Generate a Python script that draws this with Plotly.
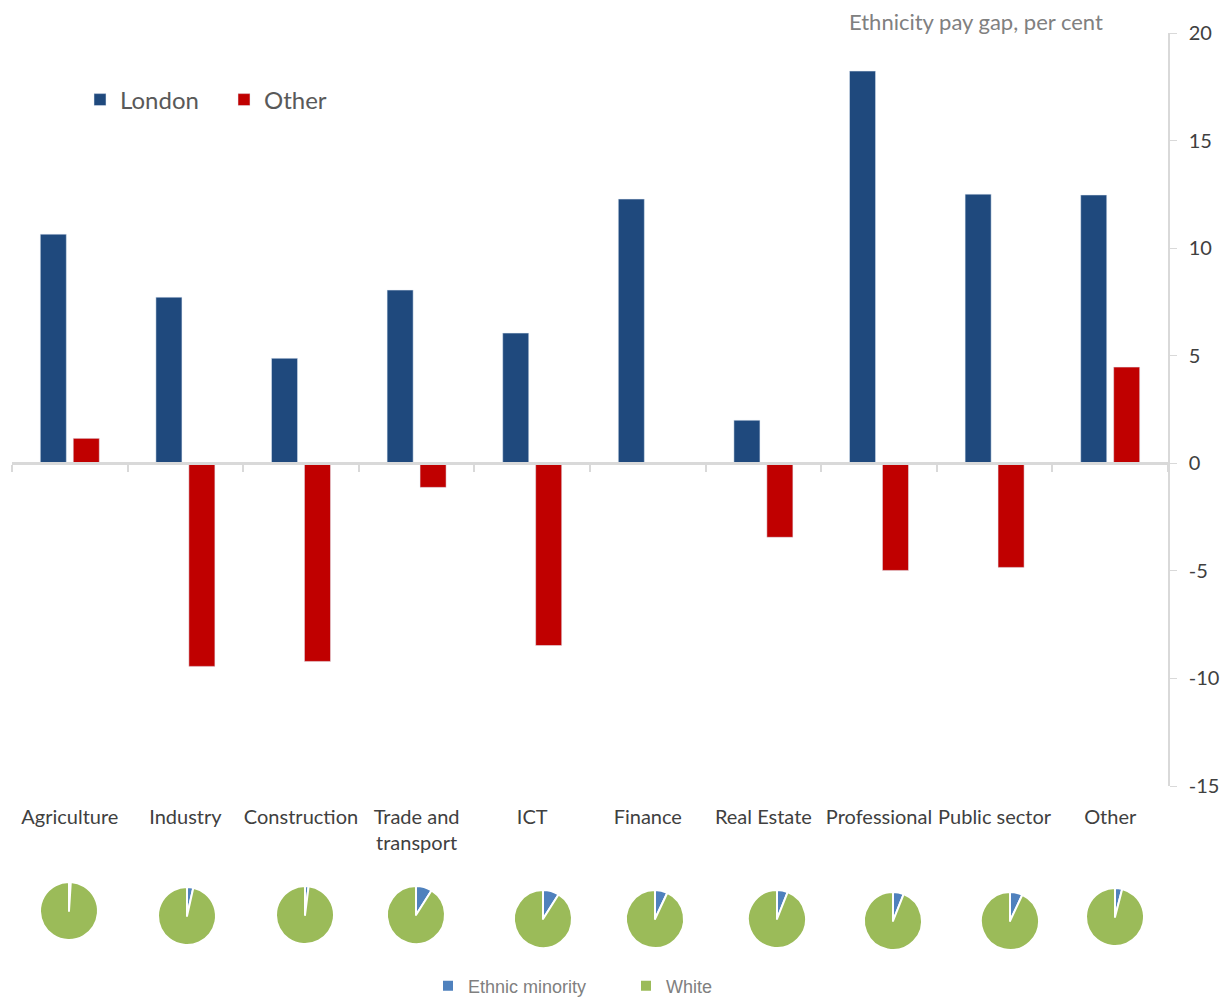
import plotly.graph_objects as go

categories = ["Agriculture", "Industry", "Construction", "Trade and<br>transport", "ICT",
              "Finance", "Real Estate", "Professional", "Public sector", "Other"]
london = [10.65, 7.72, 4.88, 8.05, 6.05, 12.28, 2.0, 18.23, 12.51, 12.47]
other = [1.16, -9.44, -9.21, -1.12, -8.47, None, -3.44, -4.98, -4.84, 4.47]
minority_share = [1.0, 3.5, 2.0, 9.0, 9.0, 7.0, 6.0, 6.0, 7.0, 4.0]
white_share = [100 - m for m in minority_share]
pie_labels = ["Ethnic minority", "White"]
y_ticks = [-15, -10, -5, 0, 5, 10, 15, 20]
y_ticktext = ["-15", "-10", "-5", "0", "5", "10", "15", "20"]

# layout geometry (pixels)
W, H = 1228, 998
ML, MR, MT, MB = 12, 60, 33, 0
plot_w = W - ML - MR
plot_h = H - MT - MB
bar_bottom_px = 786
ydom0 = (H - MB - bar_bottom_px) / plot_h
ymin, ymax = -15, 20
zero_frac = ydom0 + (0 - ymin) / (ymax - ymin) * (1 - ydom0)

pie_cx = [69, 187, 305, 416, 543, 655, 777, 893, 1010, 1115]
pie_cy = [911, 916, 915, 915, 919, 919, 919, 921, 921, 917]
pie_r = 29

TXT = "#404040"
FONT = "Lato"

fig = go.Figure()
fig.add_trace(go.Bar(x=categories, y=london, name="London", marker_color="#1F497D",
                     legend="legend"))
fig.add_trace(go.Bar(x=categories, y=other, name="Other", marker_color="#C00000",
                     legend="legend"))
# empty helper trace so the zero-line axis (x2) is drawn
fig.add_trace(go.Scatter(x=[None], y=[None], xaxis="x2", yaxis="y", mode="lines",
                         showlegend=False, hoverinfo="skip"))

for i in range(len(categories)):
    cx, cy = pie_cx[i], pie_cy[i]
    x0 = (cx - pie_r - ML) / plot_w
    x1 = (cx + pie_r - ML) / plot_w
    y0 = (H - MB - (cy + pie_r)) / plot_h
    y1 = (H - MB - (cy - pie_r)) / plot_h
    fig.add_trace(go.Pie(
        labels=pie_labels, values=[minority_share[i], white_share[i]],
        sort=False, direction="clockwise", rotation=0,
        marker=dict(colors=["#4F81BD", "#9BBB59"], line=dict(color="white", width=2)),
        textinfo="none", hoverinfo="label+percent",
        domain=dict(x=[x0, x1], y=[y0, y1]),
        legend="legend2", showlegend=(i == 0),
    ))

fig.update_layout(
    width=W, height=H,
    margin=dict(l=ML, r=MR, t=MT, b=MB, autoexpand=False),
    paper_bgcolor="white", plot_bgcolor="white",
    barmode="group", bargap=0.43, bargroupgap=0.21,
    font=dict(family=FONT, color=TXT),
    xaxis=dict(domain=[0, 1], anchor="y", showline=False, ticks="", showgrid=False,
               zeroline=False, tickfont=dict(size=20, color=TXT, family=FONT),
               ticklabelstandoff=17, range=[-0.5, 9.5], automargin=False),
    xaxis2=dict(overlaying="x", anchor="free", position=zero_frac, range=[-0.5, 9.5],
                showline=True, linecolor="#D9D9D9", linewidth=2.5,
                tickmode="array", tickvals=[i - 0.5 for i in range(11)],
                ticks="outside", ticklen=7, tickcolor="#D9D9D9", tickwidth=1.5,
                showticklabels=False, showgrid=False, zeroline=False),
    yaxis=dict(domain=[ydom0, 1], side="right", range=[ymin, ymax],
               tickmode="array", tickvals=y_ticks, ticktext=y_ticktext,
               showline=True, linecolor="#D9D9D9", linewidth=1.5,
               ticks="outside", ticklen=7, tickcolor="#D9D9D9",
               showgrid=False, zeroline=False, automargin=False,
               tickfont=dict(size=20, color=TXT, family=FONT), ticklabelstandoff=8),
    legend=dict(orientation="h", x=(80 - ML) / plot_w, y=(H - 100) / plot_h,
                xanchor="left", yanchor="middle",
                font=dict(size=24, color="#595959", family=FONT), bgcolor="rgba(0,0,0,0)",
                itemwidth=30, entrywidth=99, entrywidthmode="pixels",
                traceorder="normal"),
    legend2=dict(orientation="h", x=(428 - ML) / plot_w, y=(H - 986) / plot_h,
                 xanchor="left", yanchor="middle",
                 font=dict(size=18, color="#808080", family="Liberation Sans"),
                 bgcolor="rgba(0,0,0,0)", itemwidth=30, entrywidth=153,
                 entrywidthmode="pixels"),
    annotations=[dict(text="Ethnicity pay gap, per cent", xref="paper", yref="paper",
                      x=(1105 - ML) / plot_w, y=(H - 22) / plot_h,
                      xanchor="right", yanchor="middle", showarrow=False,
                      font=dict(size=22, color="#808080", family=FONT))],
)

fig.write_html("out.html", config={"displayModeBar": False},
               post_script="document.body.style.margin='0px';document.body.style.overflow='hidden';")
